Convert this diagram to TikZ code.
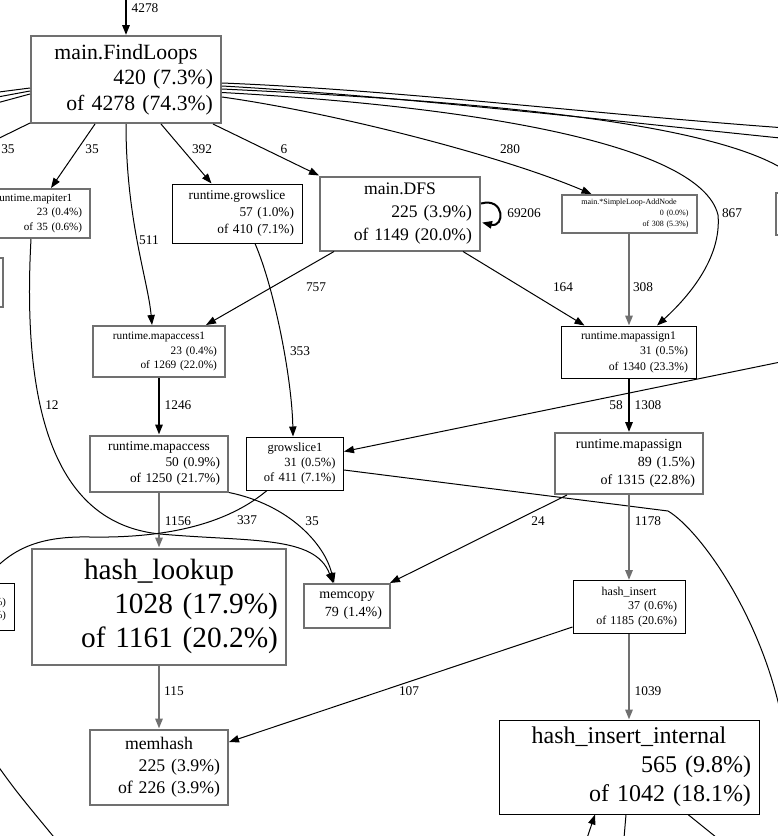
\documentclass[tikz,border=0pt]{standalone}
\usepackage{fontspec}
\setmainfont{Liberation Serif}
\usetikzlibrary{arrows.meta,calc}

\definecolor{boxgray}{HTML}{707070}
\definecolor{edgegray}{HTML}{707070}

\tikzset{every picture/.style={line width=0.75pt}}
\tikzset{
  fn/.style={draw, line width=0.75pt, inner xsep=6pt, inner ysep=0pt, align=right},
  fng/.style={fn, draw=boxgray, line width=1.5pt},
  fs/.style 2 args={font=\fontsize{#1}{#2}\selectfont},
  lab/.style={fs={10}{12}, inner sep=0pt},
  e/.style={-{Triangle[length=7.5pt,width=5.5pt]}},
  eb/.style={e, line width=1.5pt},
  eg/.style={e, draw=edgegray, line width=1.5pt},
}
\newcommand{\fnlab}[3]{\makebox[\hsize][c]{#1}\\#2\\#3}

\begin{document}
\begin{tikzpicture}[x=0.75pt,y=0.75pt,yscale=-1,xscale=1]
	\useasboundingbox (0,0) rectangle (778,836);

	% Function boxes
	\node[fng, fs={16.3}{19}, text width=130.5pt, minimum height=65.25pt] (find) at (126,79.5) {\fnlab{main.FindLoops}{420 (7.3\%)}{of 4278 (74.3\%)}};
	\node[fng, fs={8.3}{10.9}, text width=72pt, minimum height=36.75pt] (iter) at (34,213.5) {\fnlab{runtime.mapiter1}{23 (0.4\%)}{of 35 (0.6\%)}};
	\node[fn, fs={10}{12.75}, text width=85.5pt, minimum height=44.25pt] (grow) at (237,213.5) {\fnlab{runtime.growslice}{57 (1.0\%)}{of 410 (7.1\%)}};
	\node[fng, fs={13.2}{17.25}, text width=108pt, minimum height=55.5pt] (dfs) at (400,213.5) {\fnlab{main.DFS}{225 (3.9\%)}{of 1149 (20.0\%)}};
	\node[fng, fs={6}{8.25}, text width=89.25pt, minimum height=28.5pt] (addn) at (629,214) {\fnlab{main.*SimpleLoop-AddNode}{0 (0.0\%)}{of 308 (5.3\%)}};
	\node[fng, minimum width=63pt, minimum height=31.5pt] (rpart) at (818,214) {};
	\node[fng, minimum width=62.25pt, minimum height=36.75pt] (lpartt) at (-38.5,282.5) {};

	\node[fng, fs={8.5}{10.9}, text width=87pt, minimum height=38.25pt] (acc1) at (159,351.5) {\fnlab{runtime.mapaccess1}{23 (0.4\%)}{of 1269 (22.0\%)}};
	\node[fn, fs={8.8}{11.6}, text width=89.25pt, minimum height=39pt] (asg1) at (628.5,352) {\fnlab{runtime.mapassign1}{31 (0.5\%)}{of 1340 (23.3\%)}};

	\node[fng, fs={10}{12}, text width=91.5pt, minimum height=42pt] (acc) at (159,463.5) {\fnlab{runtime.mapaccess}{50 (0.9\%)}{of 1250 (21.7\%)}};
	\node[fn, fs={9.4}{11.25}, text width=60.75pt, minimum height=39.75pt] (gs1) at (295,463.5) {\fnlab{growslice1}{31 (0.5\%)}{of 411 (7.1\%)}};
	\node[fng, fs={10.5}{13.5}, text width=99pt, minimum height=45.75pt] (asg) at (629,463.5) {\fnlab{runtime.mapassign}{89 (1.5\%)}{of 1315 (22.8\%)}};

	\node[fng, fs={22}{25.5}, text width=178.5pt, minimum height=87pt] (hl) at (159,606.5) {\fnlab{hash\_lookup}{1028 (17.9\%)}{of 1161 (20.2\%)}};
	\node[fng, fs={10.5}{13.5}, text width=52.5pt, minimum height=33pt] (memc) at (347,606) {\makebox[\hsize][c]{memcopy}\\79 (1.4\%)};
	\node[fn, fs={9}{10.9}, text width=72pt, minimum height=39.75pt] (hi) at (629,607) {\fnlab{hash\_insert}{37 (0.6\%)}{of 1185 (20.6\%)}};
	\node[fn, fs={8}{9.75}, text width=58.5pt, minimum height=35.25pt] (lpartb) at (-33,606.5) {\mbox{}\\\%)\\\%)};

	\node[fng, fs={13.3}{16.5}, text width=91.5pt, minimum height=56.25pt] (mh) at (159,767) {\fnlab{memhash}{225 (3.9\%)}{of 226 (3.9\%)}};
	\node[fn, fs={18}{21.75}, text width=183pt, minimum height=70.5pt] (hii) at (629,767) {\fnlab{hash\_insert\_internal}{565 (9.8\%)}{of 1042 (18.1\%)}};

	% Loose ends
	\coordinate (intop) at (126,-5);
	\coordinate (offl1) at (-25,150);
	\coordinate (offl2) at (-40,97);
	\coordinate (offl3) at (-40,104);
	\coordinate (offl4) at (-40,113);
	\coordinate (offl5) at (-15,580);
	\coordinate (offl6) at (-12,752);
	\coordinate (offl7) at (58,842);
	\coordinate (offr1) at (800,129);
	\coordinate (offr2) at (800,140);
	\coordinate (offr3) at (800,182);
	\coordinate (offr4) at (800,358);
	\coordinate (offr5) at (784,730);
	\coordinate (offb1) at (583,850);
	\coordinate (offb2) at (623,850);
	\coordinate (offb3) at (732,850);

	% Edges out of main.FindLoops
	\draw[eb] (intop) -- (find);
	\draw ($(find.south west)+(0,-1)$) -- (offl1);
	\draw ($(find.west)+(0,8.5)$) -- (offl2);
	\draw ($(find.west)+(0,11.5)$) -- (offl3);
	\draw ($(find.west)+(0,14.5)$) -- (offl4);
	\draw[e] ($(find.south west)+(65,0)$) -- ($(iter.north west)+(74,0)$);
	\draw[e] (find.south) .. controls (126,220) and (148,280) .. ($(acc1.north)+(-7,0)$);
	\draw[e] ($(find.south west)+(131,0)$) -- ($(grow.north west)+(40,0)$);
	\draw[e] ($(find.south west)+(183,0)$) -- (dfs.north west);
	\draw[e] ($(find.east)+(0,17.5)$) .. controls (330,112) and (500,155) .. ($(addn.north west)+(31,0)$);
	\draw[e] ($(find.east)+(0,13)$) .. controls (450,105) and (700,140) .. (718,215) .. controls (722,260) and (685,300) .. ($(asg1.north)+(28.5,0)$);
	\draw ($(find.east)+(0,3.5)$) .. controls (400,90) and (600,115) .. (offr1);
	\draw ($(find.east)+(0,6.5)$) .. controls (400,96) and (650,125) .. (offr2);
	\draw ($(find.east)+(0,9.5)$) .. controls (450,100) and (740,120) .. (offr3);

	% Edges out of main.DFS and its neighbours
	\draw[eb] ($(dfs.east)+(0,-10)$) .. controls (505,197) and (505,228) .. ($(dfs.east)+(1,9)$);
	\draw[e] ($(dfs.south west)+(15,0)$) -- ($(acc1.north east)+(-20,0)$);
	\draw[e] ($(dfs.south east)+(-18,0)$) -- ($(asg1.north west)+(24,0)$);
	\draw[eg] (addn.south) -- (asg1.north -| addn.south);
	\draw[e] ($(grow.south)+(18,0)$) .. controls (275,290) and (292,380) .. ($(gs1.north)+(-2,0)$);
	\draw[e] ($(iter.south)+(-3,0)$) .. controls (20,440) and (70,525) .. (160,534) .. controls (250,542) and (315,535) .. ($(memc.north)+(-14,0)$);

	% Map access and assign
	\draw[eb] (acc1) -- (acc);
	\draw[eb] (asg1.south -| asg.north) -- (asg);
	\draw[e] (offr4) -- ($(gs1.east)+(0,-12)$);
	\draw ($(gs1.east)+(0,6.5)$) -- (668,511) .. controls (700,530) and (765,620) .. (offr5);
	\draw[eg] (acc) -- (hl);
	\draw[e] (acc.south east) .. controls (290,505) and (325,545) .. ($(memc.north)+(-13,0)$);
	\draw ($(gs1.south)+(-28,0)$) .. controls (220,530) and (150,538) .. (90,537) .. controls (40,536) and (10,548) .. (offl5);
	\draw[e] ($(asg.south west)+(13,0)$) -- ($(memc.north east)+(-1,0)$);
	\draw[eg] (asg) -- (hi);

	% Hashing
	\draw[eg] (hl) -- (mh);
	\draw[e] ($(hi.west)+(0,20)$) -- ($(mh.east)+(0,-25)$);
	\draw[eg] (hi) -- (hii);
	\draw[e] (offb1) -- ($(hii.south)+(-34,0)$);
	\draw ($(hii.south)+(-3,0)$) -- (offb2);
	\draw ($(hii.south)+(59,0)$) -- (offb3);
	\draw (offl6) .. controls (15,790) .. (offl7);

	% Edge labels
	\node[lab] (l4278) at (145,8) {4278};
	\node[lab] (l35a) at (8,149) {35};
	\node[lab] (l35b) at (92,149) {35};
	\node[lab] (l392) at (202,149) {392};
	\node[lab] (l6) at (284,149) {6};
	\node[lab] (l280) at (510,149) {280};
	\node[lab] (l69206) at (524,213) {69206};
	\node[lab] (l867) at (732,213) {867};
	\node[lab] (l511) at (149,240) {511};
	\node[lab] (l757) at (316,287) {757};
	\node[lab] (l164) at (563,287) {164};
	\node[lab] (l308) at (643,287) {308};
	\node[lab] (l353) at (300,351) {353};
	\node[lab] (l12) at (52,405) {12};
	\node[lab] (l1246) at (178,405) {1246};
	\node[lab] (l58) at (616,405) {58};
	\node[lab] (l1308) at (648,405) {1308};
	\node[lab] (l1156) at (178,521) {1156};
	\node[lab] (l337) at (247,520) {337};
	\node[lab] (l35c) at (312,521) {35};
	\node[lab] (l24) at (538,521) {24};
	\node[lab] (l1178) at (648,521) {1178};
	\node[lab] (l115) at (174,691) {115};
	\node[lab] (l107) at (409,691) {107};
	\node[lab] (l1039) at (648,691) {1039};

\end{tikzpicture}
\end{document}
